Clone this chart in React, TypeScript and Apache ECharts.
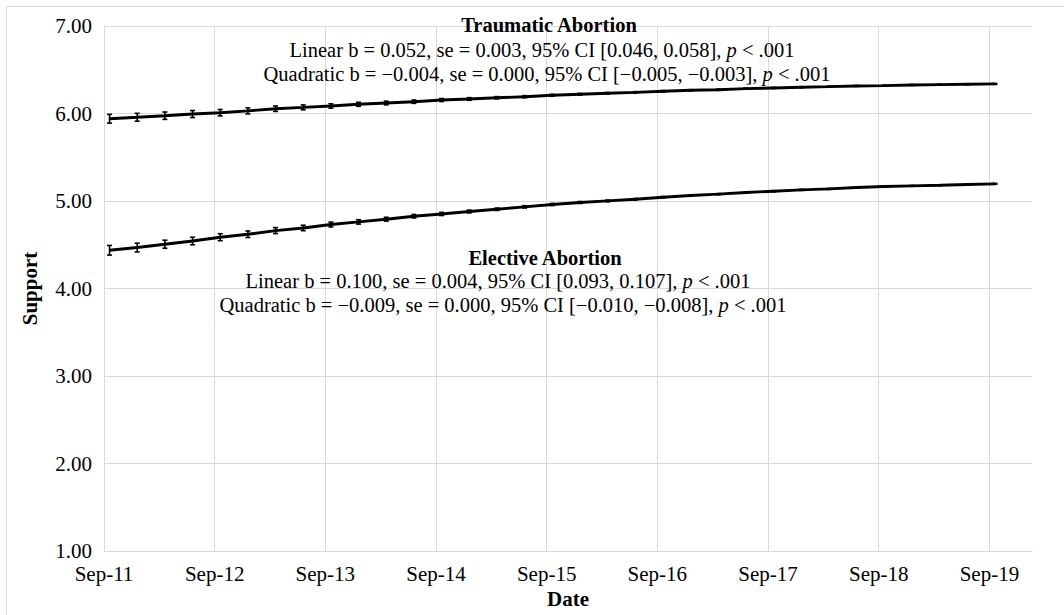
import React, { useEffect, useRef } from "react";
import * as echarts from "echarts";

// Years since Sep-2011 of each quarterly observation
const xYears = [
  0.05, 0.3, 0.55, 0.8, 1.05, 1.3, 1.55, 1.8, 2.05, 2.3, 2.55,
  2.8, 3.05, 3.3, 3.55, 3.8, 4.05, 4.3, 4.55, 4.8, 5.05, 5.3,
  5.55, 5.8, 6.05, 6.3, 6.55, 6.8, 7.05, 7.3, 7.55, 7.8, 8.05,
];

const traumatic = [
  5.94, 5.957, 5.975, 5.994, 6.009, 6.03, 6.055, 6.07, 6.086, 6.105, 6.12,
  6.135, 6.154, 6.166, 6.18, 6.192, 6.208, 6.22, 6.231, 6.242, 6.254, 6.265,
  6.272, 6.284, 6.292, 6.3, 6.307, 6.315, 6.318, 6.326, 6.33, 6.334, 6.338,
];

const elective = [
  4.437, 4.468, 4.506, 4.543, 4.586, 4.62, 4.662, 4.692, 4.731, 4.761, 4.792,
  4.826, 4.852, 4.88, 4.906, 4.933, 4.96, 4.983, 5.001, 5.02, 5.043, 5.063,
  5.078, 5.097, 5.112, 5.127, 5.138, 5.154, 5.166, 5.173, 5.18, 5.189, 5.196,
];

// half-widths of the error bars
const traumaticErr = [
  0.05, 0.045, 0.042, 0.04, 0.037, 0.034, 0.031, 0.028, 0.025, 0.023, 0.021,
  0.019, 0.017, 0.015, 0.013, 0.012, 0.011, 0.01, 0.009, 0.008, 0.008, 0.007,
  0.007, 0.006, 0.006, 0.006, 0.005, 0.005, 0.005, 0.005, 0.005, 0.005, 0.005,
];
const electiveErr = [
  0.055, 0.05, 0.046, 0.043, 0.04, 0.037, 0.034, 0.031, 0.028, 0.025, 0.022,
  0.02, 0.018, 0.016, 0.014, 0.013, 0.012, 0.011, 0.01, 0.009, 0.008, 0.008,
  0.007, 0.007, 0.006, 0.006, 0.006, 0.005, 0.005, 0.005, 0.005, 0.005, 0.005,
];

const yearTicks = [1, 2, 3, 4, 5, 6, 7, 8];
const yearLabelBase = 11;

const SERIF = '"Liberation Serif", "Times New Roman", serif';

export default function App() {
  const ref = useRef<HTMLDivElement>(null);

  useEffect(() => {
    if (!ref.current) return;
    const chart = echarts.init(ref.current, undefined, { renderer: "svg" });

    const lineData = (vals: number[]) => vals.map((v, i) => [xYears[i], v]);
    const errData = (vals: number[], err: number[]) =>
      vals.map((v, i) => [xYears[i], v - err[i], v + err[i]]);

    const renderErr = (params: any, api: any) => {
      const x = api.value(0);
      const lo = api.coord([x, api.value(1)]);
      const hi = api.coord([x, api.value(2)]);
      const cap = 2.5;
      const style = { stroke: "#000", lineWidth: 1.6 };
      return {
        type: "group",
        children: [
          { type: "line", shape: { x1: lo[0], y1: lo[1], x2: hi[0], y2: hi[1] }, style },
          { type: "line", shape: { x1: lo[0] - cap, y1: lo[1], x2: lo[0] + cap, y2: lo[1] }, style },
          { type: "line", shape: { x1: hi[0] - cap, y1: hi[1], x2: hi[0] + cap, y2: hi[1] }, style },
        ],
      };
    };

    const FS = 20.5;
    const mkText = (x: number, y: number, text: string, bold = false) => ({
      type: "text",
      x,
      y,
      z: 100,
      style: {
        fontFamily: SERIF,
        fontSize: FS,
        fill: "#000",
        fontWeight: bold ? "bold" : "normal",
        text,
        align: "center",
        verticalAlign: "middle",
        rich: {
          i: { fontFamily: SERIF, fontSize: FS, fontStyle: "italic", fill: "#000" },
        },
      },
    });

    chart.setOption({
      animation: false,
      backgroundColor: "#fff",
      grid: { left: 104, right: 32, top: 26, bottom: 64, containLabel: false },
      xAxis: {
        type: "value",
        min: 0,
        max: 8.385,
        interval: 1,
        name: "Date",
        nameLocation: "middle",
        nameGap: 37,
        nameTextStyle: { fontFamily: SERIF, fontSize: 21, fontWeight: "bold", color: "#000" },
        axisLine: { show: true, lineStyle: { color: "#d9d9d9", width: 1 } },
        axisTick: { show: false },
        splitLine: { show: false },
        axisLabel: {
          fontFamily: SERIF,
          fontSize: 21,
          color: "#000",
          margin: 12,
          showMaxLabel: false,
          formatter: (v: number) =>
            Math.abs(v - Math.round(v)) < 1e-9 ? `Sep-${yearLabelBase + Math.round(v)}` : "",
        },
      },
      yAxis: {
        type: "value",
        min: 1,
        max: 7,
        interval: 1,
        name: "Support",
        nameLocation: "middle",
        nameGap: 64,
        nameTextStyle: { fontFamily: SERIF, fontSize: 21, fontWeight: "bold", color: "#000" },
        axisLine: { show: true, lineStyle: { color: "#d9d9d9", width: 1 } },
        axisTick: { show: false },
        splitLine: { show: true, lineStyle: { color: "#d9d9d9", width: 1 } },
        axisLabel: {
          fontFamily: SERIF,
          fontSize: 21,
          color: "#000",
          margin: 12,
          formatter: (v: number) => v.toFixed(2),
        },
      },
      series: [
        {
          type: "line",
          data: [],
          z: 1,
          silent: true,
          markLine: {
            silent: true,
            symbol: "none",
            label: { show: false },
            lineStyle: { color: "#d9d9d9", width: 1, type: "solid" },
            data: yearTicks.map((t) => ({ xAxis: t })),
          },
        },
        {
          type: "line",
          name: "Traumatic",
          data: lineData(traumatic),
          symbol: "none",
          z: 5,
          lineStyle: { color: "#000", width: 2.9 },
        },
        {
          type: "line",
          name: "Elective",
          data: lineData(elective),
          symbol: "none",
          z: 5,
          lineStyle: { color: "#000", width: 2.9 },
        },
        {
          type: "custom",
          data: errData(traumatic, traumaticErr),
          renderItem: renderErr,
          z: 6,
          encode: { x: 0, y: [1, 2] },
        },
        {
          type: "custom",
          data: errData(elective, electiveErr),
          renderItem: renderErr,
          z: 6,
          encode: { x: 0, y: [1, 2] },
        },
      ],
      graphic: [
        {
          type: "polyline",
          z: 100,
          shape: { points: [[6.5, 700], [6.5, 6.5], [1100, 6.5]] },
          style: { stroke: "#d9d9d9", lineWidth: 1, fill: "none" },
        },
        mkText(549, 25, "Traumatic Abortion", true),
        mkText(542, 50, "Linear b = 0.052, se = 0.003, 95% CI [0.046, 0.058], {i|p} < .001"),
        mkText(547, 74, "Quadratic b = \u22120.004, se = 0.000, 95% CI [\u22120.005, \u22120.003], {i|p} < .001"),
        mkText(545, 258, "Elective Abortion", true),
        mkText(498, 281, "Linear b = 0.100, se = 0.004, 95% CI [0.093, 0.107], {i|p} < .001"),
        mkText(503, 305, "Quadratic b = \u22120.009, se = 0.000, 95% CI [\u22120.010, \u22120.008], {i|p} < .001"),
      ],
    });

    return () => chart.dispose();
  }, []);

  return (
    <div
      ref={ref}
      style={{ position: "fixed", left: 0, top: 0, width: 1064, height: 615, background: "#fff" }}
    />
  );
}
